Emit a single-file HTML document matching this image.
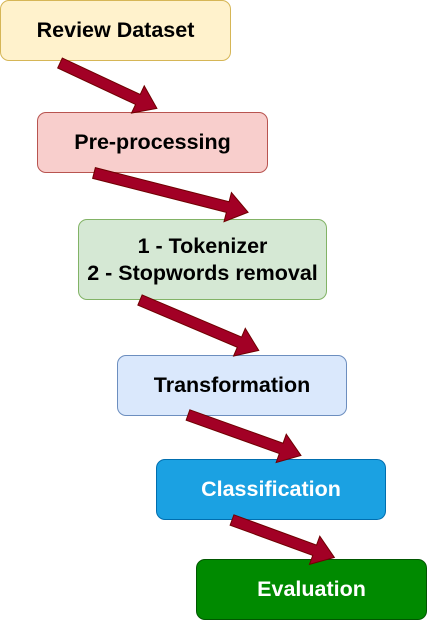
<!DOCTYPE html>
<html><head><style>
body{margin:0;width:427px;height:620px;background:#fff;overflow:hidden;position:relative;font-family:"Liberation Sans",Arial,sans-serif}
.b{position:absolute;box-sizing:border-box;border:1px solid;border-radius:9px;display:flex;align-items:center;justify-content:center;text-align:center;font-weight:bold;font-size:21.5px;line-height:27px;color:#000}
svg{position:absolute;left:0;top:0}
</style></head><body>
<div class="b" style="left:0;top:0;width:231px;height:61px;background:#fff2cc;border-color:#d6b656">Review Dataset</div>
<div class="b" style="left:37px;top:112px;width:231px;height:61px;background:#f8cecc;border-color:#b85450">Pre-processing</div>
<div class="b" style="left:78px;top:219px;width:249px;height:81px;background:#d5e8d4;border-color:#82b366">1 - Tokenizer<br>2 - Stopwords removal</div>
<div class="b" style="left:117px;top:355px;width:230px;height:61px;background:#dae8fc;border-color:#6c8ebf">Transformation</div>
<div class="b" style="left:156px;top:459px;width:230px;height:61px;background:#1ba1e2;border-color:#006eaf;color:#fff">Classification</div>
<div class="b" style="left:196px;top:559px;width:231px;height:61px;background:#008a00;border-color:#005700;color:#fff">Evaluation</div>
<svg width="427" height="620">
<g fill="#a20025" stroke="#6f0000" stroke-width="1">
<polygon transform="translate(60,63) rotate(25.1)" points="0,-5.5 86,-5.5 86,-15 107,0 86,15 86,5.5 0,5.5"/>
<polygon transform="translate(94,173) rotate(14.3)" points="0,-5.5 138,-5.5 138,-15 159,0 138,15 138,5.5 0,5.5"/>
<polygon transform="translate(140,300) rotate(23)" points="0,-5.5 108,-5.5 108,-15 129,0 108,15 108,5.5 0,5.5"/>
<polygon transform="translate(188,415) rotate(19.7)" points="0,-5.5 99,-5.5 99,-15 120,0 99,15 99,5.5 0,5.5"/>
<polygon transform="translate(232,520) rotate(20.1)" points="0,-5.5 88,-5.5 88,-15 109,0 88,15 88,5.5 0,5.5"/>
</g>
</svg>
</body></html>
